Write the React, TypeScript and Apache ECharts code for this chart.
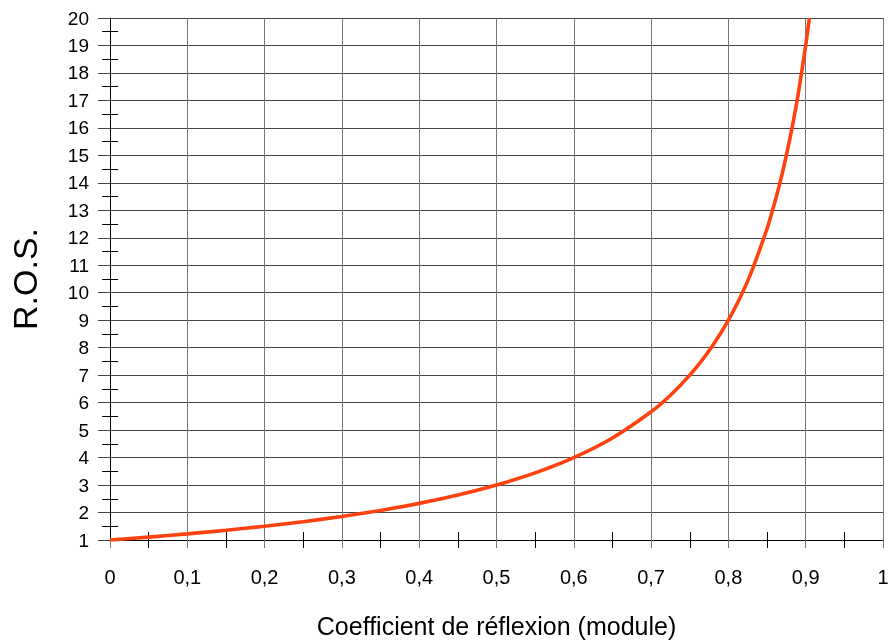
import React, { useEffect, useRef } from "react";
import * as echarts from "echarts";

const reflexion = [0, 0.05, 0.1, 0.15, 0.2, 0.25, 0.3, 0.35, 0.4, 0.45, 0.5, 0.55, 0.6, 0.65, 0.7, 0.725, 0.75, 0.775, 0.8, 0.825, 0.85, 0.86, 0.87, 0.88, 0.89, 0.9, 0.9048];
const ros = [1, 1.105, 1.222, 1.353, 1.5, 1.667, 1.857, 2.077, 2.333, 2.636, 3, 3.444, 4, 4.714, 5.667, 6.27, 7, 7.889, 9, 10.43, 12.33, 13.29, 14.38, 15.67, 17.18, 19, 20];
const xTitle = "Coefficient de réflexion (module)";
const yTitle = "R.O.S.";

export default function App() {
  const ref = useRef<HTMLDivElement>(null);
  useEffect(() => {
    const chart = echarts.init(ref.current!, null, { renderer: "svg" });
    const font = "'Liberation Sans', Arial, sans-serif";
    const fmt = (v: number) => (Math.round(v * 10) / 10).toString().replace(".", ",");
    chart.setOption({
      animation: false,
      grid: { left: 110, right: 6, top: 18, bottom: 100, outerBoundsMode: "none", containLabel: false },
      textStyle: { fontFamily: font },
      xAxis: [
        {
          type: "value", min: 0, max: 1, interval: 0.1,
          name: xTitle, nameLocation: "middle", nameGap: 73,
          nameTextStyle: { fontSize: 25, color: "#000", fontFamily: font },
          axisLine: { show: true, lineStyle: { color: "#000", width: 1 } },
          axisTick: { show: true, length: 8, lineStyle: { color: "#777" } },
          minorTick: { show: true, splitNumber: 2, length: 8, lineStyle: { color: "#000" } },
          axisLabel: { formatter: fmt, fontSize: 20, color: "#000", margin: 27, fontFamily: font },
          splitLine: { show: true, lineStyle: { color: "#777", width: 1 } },
        },
        {
          type: "value", min: 0, max: 1, interval: 0.1, position: "bottom", offset: 0,
          axisLine: { show: false }, axisLabel: { show: false },
          axisTick: { show: false, inside: true },
          minorTick: { show: true, splitNumber: 2, length: 8, lineStyle: { color: "#000" } },
          splitLine: { show: false },
        },
      ],
      yAxis: [
        {
          type: "value", min: 1, max: 20, interval: 1,
          name: yTitle, nameLocation: "middle", nameGap: 68, nameRotate: 90,
          nameTextStyle: { fontSize: 34, color: "#000", fontFamily: font },
          axisLine: { show: true, lineStyle: { color: "#000", width: 1 } },
          axisTick: { show: true, length: 12, lineStyle: { color: "#444" } },
          minorTick: { show: true, splitNumber: 2, length: 8, lineStyle: { color: "#000" } },
          axisLabel: { fontSize: 19, color: "#000", margin: 21, fontFamily: font },
          splitLine: { show: true, lineStyle: { color: "#444", width: 1 } },
        },
        {
          type: "value", min: 1, max: 20, interval: 1, position: "left", offset: 0,
          axisLine: { show: false }, axisLabel: { show: false },
          axisTick: { show: false, inside: true },
          minorTick: { show: true, splitNumber: 2, length: 8, lineStyle: { color: "#000" } },
          splitLine: { show: false },
        },
      ],
      series: [
        {
          type: "line",
          data: reflexion.map((r, i) => [r, ros[i]]),
          smooth: 0.2,
          showSymbol: false,
          lineStyle: { color: "#ff420e", width: 3.6 },
          clip: true,
        },
      ],
    });
    return () => chart.dispose();
  }, []);
  return <div ref={ref} style={{ position: "fixed", left: 0, top: 0, width: 889, height: 640 }} />;
}
